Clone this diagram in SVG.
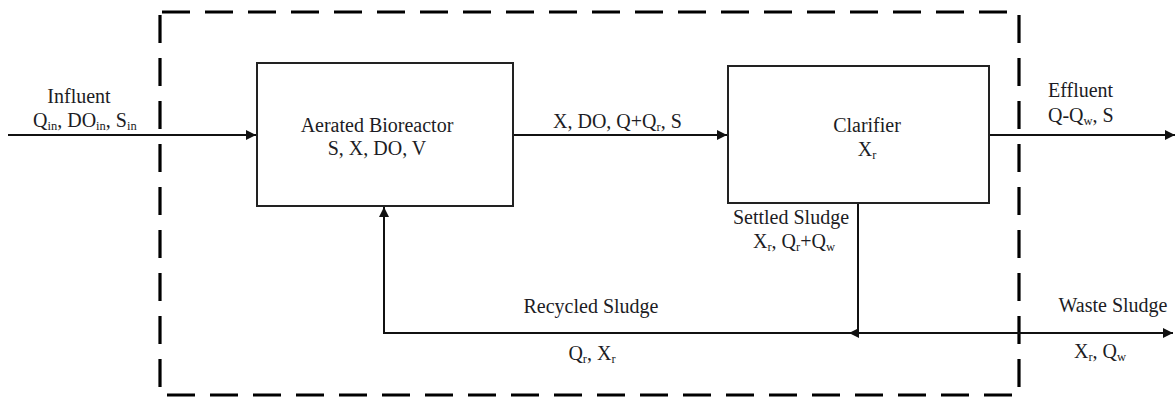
<svg xmlns="http://www.w3.org/2000/svg" width="1176" height="398" viewBox="0 0 1176 398">
  <style>
    .lbl { font-family: "Liberation Serif", "Times New Roman", serif; font-size: 20px; fill: #1c1c24; }
    .sub { font-size: 12.5px; }
    .box { fill: #ffffff; stroke: #222; stroke-width: 2; }
    .flow { fill: none; stroke: #111; stroke-width: 2; }
    .bound { fill: none; stroke: #000; stroke-width: 3.2; stroke-dasharray: 28 15; }
  </style>
  <defs>
    <marker id="arrow" viewBox="0 0 10 10" refX="10" refY="5" markerWidth="5" markerHeight="5" orient="auto" markerUnits="strokeWidth">
      <path d="M0,0 L10,5 L0,10 z" fill="#111"/>
    </marker>
  </defs>

  <rect width="1176" height="398" fill="#ffffff"/>

  <!-- system boundary -->
  <g id="boundary">
    <rect class="bound" x="160" y="12" width="859" height="383" stroke-dashoffset="-2"/>
  </g>

  <!-- connectors -->
  <g id="connectors">
    <line class="flow" x1="8" y1="135" x2="256" y2="135" marker-end="url(#arrow)"/>
    <line class="flow" x1="513" y1="135" x2="727" y2="135" marker-end="url(#arrow)"/>
    <line class="flow" x1="989" y1="135" x2="1175" y2="135" marker-end="url(#arrow)"/>
    <line class="flow" x1="858" y1="203" x2="858" y2="333"/>
    <line class="flow" x1="858" y1="333" x2="849" y2="333" marker-end="url(#arrow)"/>
    <polyline class="flow" points="853,333 384,333 384,207" marker-end="url(#arrow)"/>
    <line class="flow" x1="858" y1="333" x2="1173" y2="333" marker-end="url(#arrow)"/>
  </g>

  <!-- aerated bioreactor -->
  <g id="bioreactor">
    <rect class="box" x="257" y="63" width="256" height="143"/>
    <text class="lbl" x="377" y="132" text-anchor="middle">Aerated Bioreactor</text>
    <text class="lbl" x="377" y="155" text-anchor="middle">S, X, DO, V</text>
  </g>

  <!-- clarifier -->
  <g id="clarifier">
    <rect class="box" x="728" y="66" width="261" height="137"/>
    <text class="lbl" x="867" y="132" text-anchor="middle">Clarifier</text>
    <text class="lbl" x="867" y="156" text-anchor="middle">X<tspan class="sub" dy="3">r</tspan></text>
  </g>

  <!-- stream labels -->
  <g id="influent">
    <text class="lbl" x="79" y="103" text-anchor="middle">Influent</text>
    <text class="lbl" x="33" y="127">Q<tspan class="sub" dy="3">in</tspan><tspan dy="-3">, DO</tspan><tspan class="sub" dy="3">in</tspan><tspan dy="-3">, S</tspan><tspan class="sub" dy="3">in</tspan></text>
  </g>
  <g id="mixed-liquor">
    <text class="lbl" x="553" y="128">X, DO, Q+Q<tspan class="sub" dy="3">r</tspan><tspan dy="-3">, S</tspan></text>
  </g>
  <g id="effluent">
    <text class="lbl" x="1048" y="97">Effluent</text>
    <text class="lbl" x="1048" y="122">Q-Q<tspan class="sub" dy="3">w</tspan><tspan dy="-3">, S</tspan></text>
  </g>
  <g id="settled-sludge">
    <text class="lbl" x="791" y="224" text-anchor="middle">Settled Sludge</text>
    <text class="lbl" x="794" y="248" text-anchor="middle">X<tspan class="sub" dy="3">r</tspan><tspan dy="-3">, Q</tspan><tspan class="sub" dy="3">r</tspan><tspan dy="-3">+Q</tspan><tspan class="sub" dy="3">w</tspan></text>
  </g>
  <g id="recycled-sludge">
    <text class="lbl" x="591" y="313" text-anchor="middle">Recycled Sludge</text>
    <text class="lbl" x="592" y="360" text-anchor="middle">Q<tspan class="sub" dy="3">r</tspan><tspan dy="-3">, X</tspan><tspan class="sub" dy="3">r</tspan></text>
  </g>
  <g id="waste-sludge">
    <text class="lbl" x="1113" y="312" text-anchor="middle">Waste Sludge</text>
    <text class="lbl" x="1100" y="358" text-anchor="middle">X<tspan class="sub" dy="3">r</tspan><tspan dy="-3">, Q</tspan><tspan class="sub" dy="3">w</tspan></text>
  </g>
</svg>
